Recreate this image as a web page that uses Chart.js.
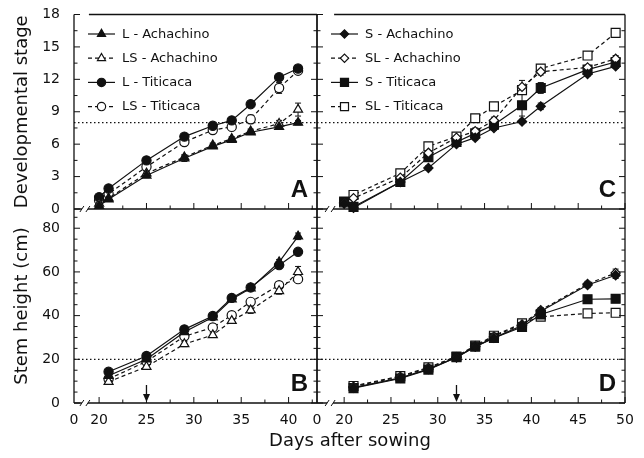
<!DOCTYPE html>
<html>
<head>
<meta charset="utf-8">
<script src="https://cdn.jsdelivr.net/npm/chart.js@4.4.1/dist/chart.umd.min.js"></script>
<style>
  html, body { margin: 0; padding: 0; background: #fff; }
  #wrap { position: relative; width: 644px; height: 458px; }
  #wrap canvas { position: absolute; left: 0; top: 0; }
  #xtitle { position: absolute; left: 230px; width: 240px; top: 429px; text-align: center;
            font: 18px "DejaVu Sans", sans-serif; color: #111; line-height: 22px; }
</style>
</head>
<body>
<div id="wrap">
  <canvas id="panel-a" width="644" height="458"></canvas>
  <canvas id="panel-b" width="644" height="458"></canvas>
  <canvas id="panel-c" width="644" height="458"></canvas>
  <canvas id="panel-d" width="644" height="458"></canvas>
  <div id="xtitle">Days after sowing</div>
</div>
<script>
// ---- data ----

// A : developmental stage, L / LS
const daysA = [20, 21, 25, 29, 32, 34, 36, 39, 41];
const stageLAch  = [0.3, 0.9, 3.1, 4.7, 5.8, 6.4, 7.1, 7.6, 8.0];
const stageLSAch = [0.5, 1.0, 3.3, 4.8, 5.9, 6.5, 7.2, 7.9, 9.2];
const stageLTit  = [1.1, 1.9, 4.5, 6.7, 7.7, 8.2, 9.7, 12.2, 13.0];
const stageLSTit = [0.8, 1.4, 3.9, 6.2, 7.3, 7.6, 8.3, 11.2, 12.8];
const errLAch  = [0, 0, 0.2, 0.3, 0.2, 0.2, 0.2, 0.2, 0.2];
const errLSAch = [0, 0, 0.2, 0.2, 0.2, 0.2, 0.2, 0.3, 0.6];
const errLTit  = [0.1, 0.1, 0.2, 0.2, 0.2, 0.2, 0.2, 0.2, 0.2];
const errLSTit = [0.1, 0.1, 0.3, 0.2, 0.2, 0.3, 0.4, 0.5, 0.3];

// B : stem height, L / LS
const daysB = [21, 25, 29, 32, 34, 36, 39, 41];
const heightLAch  = [12.5, 20.0, 32.5, 39.2, 47.5, 52.5, 64.5, 76.3];
const heightLSAch = [9.7, 16.6, 27.0, 31.1, 37.6, 42.5, 51.3, 60.0];
const heightLTit  = [14.3, 21.5, 33.7, 39.8, 48.1, 52.9, 63.1, 69.2];
const heightLSTit = [11.0, 19.0, 30.5, 34.6, 40.2, 46.3, 53.9, 56.7];
const errHLAch  = [0.8, 0.8, 1.0, 1.0, 1.0, 1.0, 1.2, 1.5];
const errHLSAch = [0.8, 1.0, 1.2, 1.0, 1.2, 1.5, 1.5, 2.5];
const errHLTit  = [1.0, 1.0, 1.0, 1.0, 1.0, 1.0, 1.2, 1.0];
const errHLSTit = [1.0, 1.0, 1.2, 1.5, 1.5, 1.5, 1.5, 1.5];

// C : developmental stage, S / SL
const daysC = [20, 21, 26, 29, 32, 34, 36, 39, 41, 46, 49];
const stageSAch  = [0.5, 0.1, 2.5, 3.8, 6.0, 6.6, 7.5, 8.1, 9.5, 12.5, 13.2];
const stageSLAch = [0.6, 1.0, 2.9, 5.2, 6.6, 7.2, 8.2, 11.3, 12.7, 13.1, 13.9];
const stageSTit  = [0.7, 0.2, 2.5, 4.8, 6.2, 7.0, 7.8, 9.6, 11.2, 12.9, 13.6];
const stageSLTit = [0.6, 1.3, 3.3, 5.8, 6.7, 8.4, 9.5, 11.0, 13.0, 14.2, 16.3];
const errSAch  = [0.1, 0.1, 0.2, 0.2, 0.2, 0.2, 0.2, 0.2, 0.3, 0.2, 0.2];
const errSLAch = [0.1, 0.1, 0.2, 0.3, 0.2, 0.3, 0.3, 0.6, 0.3, 0.2, 0.3];
const errSTit  = [0.1, 0.1, 0.2, 0.3, 0.2, 0.2, 0.3, 1.0, 0.5, 0.2, 0.2];
const errSLTit = [0.1, 0.1, 0.2, 0.3, 0.2, 0.2, 0.3, 0.4, 0.3, 0.2, 0.2];

// D : stem height, S / SL
const daysD = [21, 26, 29, 32, 34, 36, 39, 41, 46, 49];
const heightSAch  = [7.0, 11.5, 15.5, 20.8, 25.8, 29.8, 35.5, 42.0, 54.0, 58.5];
const heightSLAch = [7.5, 12.0, 16.0, 21.0, 26.0, 30.5, 36.0, 42.5, 54.5, 59.5];
const heightSTit  = [6.8, 11.2, 15.3, 21.0, 25.8, 29.8, 34.8, 40.5, 47.5, 47.7];
const heightSLTit = [7.8, 12.3, 16.3, 21.3, 26.3, 30.8, 36.5, 39.5, 41.0, 41.3];
const errHSAch  = [0.8, 0.8, 0.8, 0.8, 0.8, 0.8, 1.0, 1.0, 1.2, 1.5];
const errHSLAch = [0.8, 0.8, 0.8, 0.8, 0.8, 0.8, 1.0, 1.2, 1.2, 1.8];
const errHSTit  = [0.8, 0.8, 0.8, 0.8, 0.8, 0.8, 1.0, 1.2, 1.0, 1.0];
const errHSLTit = [0.8, 0.8, 0.8, 0.8, 0.8, 0.8, 1.0, 1.0, 1.0, 1.0];

// axis ticks
const stageTicks  = [0, 3, 6, 9, 12, 15, 18];
const heightTicks = [0, 20, 40, 60, 80];
const daysTicksLeft  = [20, 25, 30, 35, 40];
const daysTicksRight = [20, 25, 30, 35, 40, 45, 50];

// ---- styles ----
const ink = '#111';
const tickFont = { family: 'DejaVu Sans', size: 14 };

const solidTri  = { dashed: false, shape: 'triangle', r: 5.2, open: false };
const openTri   = { dashed: true,  shape: 'triangle', r: 5.2, open: true };
const solidCirc = { dashed: false, shape: 'circle',   r: 4.6, open: false };
const openCirc  = { dashed: true,  shape: 'circle',   r: 4.6, open: true };
const solidDia  = { dashed: false, shape: 'rectRot',  r: 4.6, open: false };
const openDia   = { dashed: true,  shape: 'rectRot',  r: 4.6, open: true };
const solidSq   = { dashed: false, shape: 'rect',     r: 6.3, open: false };
const openSq    = { dashed: true,  shape: 'rect',     r: 6.3, open: true };

function series(label, days, values, errors, style) {
    return {
        label: label,
        data: days.map((d, i) => ({ x: d, y: values[i] })),
        errors: errors,
        borderColor: ink,
        borderWidth: 1.2,
        borderDash: style.dashed ? [4, 3] : [],
        pointStyle: style.shape,
        pointRadius: style.r,
        pointBackgroundColor: style.open ? '#fff' : ink,
        pointBorderColor: ink,
        pointBorderWidth: 1.2,
        tension: 0,
        clip: false
    };
}

// frame, inward ticks, axis break, dotted line, arrow, letter, legend, error bars
const panelPlugin = {
    id: 'panel',
    beforeDatasetsDraw(chart, args, opts) {
        const ctx = chart.ctx;
        const a = chart.chartArea;
        const y = chart.scales.y;
        ctx.save();
        // dotted reference line
        const py = y.getPixelForValue(opts.refY);
        ctx.strokeStyle = ink;
        ctx.lineWidth = 1.2;
        ctx.setLineDash([1.5, 2.5]);
        ctx.beginPath();
        ctx.moveTo(a.left, py);
        ctx.lineTo(a.right, py);
        ctx.stroke();
        ctx.setLineDash([]);
        // error bars
        ctx.lineWidth = 1;
        chart.data.datasets.forEach((ds, i) => {
            const meta = chart.getDatasetMeta(i);
            meta.data.forEach((pt, j) => {
                const e = ds.errors[j];
                if (!e) return;
                const v = ds.data[j].y;
                const y1 = y.getPixelForValue(v - e);
                const y2 = y.getPixelForValue(v + e);
                ctx.beginPath();
                ctx.moveTo(pt.x, y1); ctx.lineTo(pt.x, y2);
                ctx.moveTo(pt.x - 3, y1); ctx.lineTo(pt.x + 3, y1);
                ctx.moveTo(pt.x - 3, y2); ctx.lineTo(pt.x + 3, y2);
                ctx.stroke();
            });
        });
        ctx.restore();
    },
    afterDatasetsDraw(chart, args, opts) {
        const ctx = chart.ctx;
        const a = chart.chartArea;
        const x = chart.scales.x;
        const y = chart.scales.y;
        ctx.save();
        ctx.strokeStyle = ink;
        ctx.fillStyle = ink;
        ctx.lineWidth = 1.3;

        // frame with axis break
        const bx = x.getPixelForValue(opts.breakX);
        ctx.beginPath();
        ctx.moveTo(a.left, a.top); ctx.lineTo(a.left, a.bottom);
        ctx.moveTo(a.right, a.top); ctx.lineTo(a.right, a.bottom);
        ctx.moveTo(a.left, a.bottom); ctx.lineTo(bx - 3, a.bottom);
        ctx.moveTo(bx + 3, a.bottom); ctx.lineTo(a.right, a.bottom);
        if (opts.drawTop) {
            ctx.moveTo(bx + 4, a.top); ctx.lineTo(a.right, a.top);
        }
        ctx.stroke();
        ctx.lineWidth = 1;
        ctx.beginPath();
        [-3, 3].forEach(o => {
            ctx.moveTo(bx + o - 2, a.bottom + 3);
            ctx.lineTo(bx + o + 2, a.bottom - 3);
        });
        ctx.stroke();

        // inward ticks
        ctx.lineWidth = 1;
        ctx.beginPath();
        for (let v = y.min; v <= y.max + 1e-6; v += opts.minorY) {
            const p = y.getPixelForValue(v);
            const major = Math.abs(v / opts.majorY - Math.round(v / opts.majorY)) < 1e-6;
            const len = major ? 6 : 3.5;
            ctx.moveTo(a.left, p); ctx.lineTo(a.left + len, p);
            ctx.moveTo(a.right, p); ctx.lineTo(a.right - len, p);
        }
        for (let v = 20; v <= x.max + 1e-6; v += 2.5) {
            const p = x.getPixelForValue(v);
            const major = Math.abs(v / 5 - Math.round(v / 5)) < 1e-6;
            const len = major ? 6 : 3.5;
            ctx.moveTo(p, a.bottom); ctx.lineTo(p, a.bottom - len);
        }
        ctx.stroke();

        // arrow marking transfer day
        if (opts.arrowX !== undefined) {
            const ax = x.getPixelForValue(opts.arrowX);
            ctx.lineWidth = 1.3;
            ctx.beginPath();
            ctx.moveTo(ax, a.bottom - 18); ctx.lineTo(ax, a.bottom - 6);
            ctx.stroke();
            ctx.beginPath();
            ctx.moveTo(ax - 3.5, a.bottom - 9);
            ctx.lineTo(ax + 3.5, a.bottom - 9);
            ctx.lineTo(ax, a.bottom - 1);
            ctx.closePath();
            ctx.fill();
        }

        // panel letter
        ctx.font = 'bold 24px "Liberation Sans"';
        ctx.textAlign = 'right';
        ctx.textBaseline = 'alphabetic';
        ctx.fillText(opts.letter, a.right - 9, a.bottom - 12);

        // legend inside the plot
        if (opts.legend) {
            ctx.font = '13px "DejaVu Sans"';
            ctx.textAlign = 'left';
            ctx.textBaseline = 'middle';
            chart.data.datasets.forEach((ds, i) => {
                const ly = a.top + 19.5 + i * 24.2;
                const lx = a.left + 14;
                ctx.lineWidth = 1.2;
                ctx.setLineDash(ds.borderDash);
                ctx.beginPath();
                ctx.moveTo(lx, ly); ctx.lineTo(lx + 27, ly);
                ctx.stroke();
                ctx.setLineDash([]);
                ctx.fillStyle = ds.pointBackgroundColor;
                ctx.strokeStyle = ink;
                Chart.helpers.drawPoint(ctx, {
                    pointStyle: ds.pointStyle,
                    radius: ds.pointRadius * 0.9,
                    rotation: 0,
                    borderWidth: 1.2
                }, lx + 13.5, ly);
                ctx.fillStyle = ink;
                ctx.fillText(ds.label, a.left + 48, ly + 0.5);
            });
        }
        ctx.restore();
    }
};

function makePanel(id, cfg) {
    return new Chart(document.getElementById(id), {
        type: 'line',
        data: { datasets: cfg.datasets },
        plugins: [panelPlugin],
        options: {
            responsive: false,
            animation: false,
            events: [],
            layout: { padding: cfg.padding },
            plugins: {
                legend: { display: false },
                tooltip: { enabled: false },
                panel: cfg.panel
            },
            scales: {
                x: {
                    type: 'linear',
                    min: cfg.xMin,
                    max: cfg.xMax,
                    display: cfg.showX,
                    grid: { display: false },
                    border: { display: false },
                    afterBuildTicks: s => { s.ticks = [cfg.xMin].concat(cfg.xTicks).map(v => ({ value: v })); },
                    afterFit: s => { s.height = cfg.showX ? 30 : 0; },
                    ticks: {
                        autoSkip: false,
                        maxRotation: 0,
                        padding: 1,
                        color: ink,
                        font: tickFont,
                        callback: (v, i) => i === 0 ? '0' : v
                    }
                },
                y: {
                    type: 'linear',
                    min: 0,
                    max: cfg.yMax,
                    display: cfg.showY,
                    grid: { display: false },
                    border: { display: false },
                    afterBuildTicks: s => { s.ticks = cfg.yTicks.map(v => ({ value: v })); },
                    afterFit: s => { s.width = cfg.showY ? 74 : 0; },
                    ticks: { padding: 6, color: ink, font: tickFont },
                    title: {
                        display: !!cfg.yTitle,
                        text: cfg.yTitle,
                        color: ink,
                        font: { family: 'DejaVu Sans', size: 18 },
                        padding: { top: 12, bottom: 0 }
                    }
                }
            }
        }
    });
}

const leftX = { xMin: 17.35, xMax: 43, xTicks: daysTicksLeft };
const rightX = { xMin: 17.1, xMax: 50, xTicks: daysTicksRight };

makePanel('panel-a', Object.assign({}, leftX, {
    datasets: [
        series('L - Achachino', daysA, stageLAch, errLAch, solidTri),
        series('LS - Achachino', daysA, stageLSAch, errLSAch, openTri),
        series('L - Titicaca', daysA, stageLTit, errLTit, solidCirc),
        series('LS - Titicaca', daysA, stageLSTit, errLSTit, openCirc)
    ],
    padding: { left: 0, top: 14.5, right: 327, bottom: 249 },
    showX: false, showY: true, yMax: 18, yTicks: stageTicks, yTitle: 'Developmental stage',
    panel: { letter: 'A', refY: 8, breakX: 18.5, minorY: 1.5, majorY: 3, drawTop: true, legend: true }
}));

makePanel('panel-b', Object.assign({}, leftX, {
    datasets: [
        series('L - Achachino', daysB, heightLAch, errHLAch, solidTri),
        series('LS - Achachino', daysB, heightLSAch, errHLSAch, openTri),
        series('L - Titicaca', daysB, heightLTit, errHLTit, solidCirc),
        series('LS - Titicaca', daysB, heightLSTit, errHLSTit, openCirc)
    ],
    padding: { left: 0, top: 209, right: 327, bottom: 25 },
    showX: true, showY: true, yMax: 88.8, yTicks: heightTicks, yTitle: 'Stem height (cm)',
    panel: { letter: 'B', refY: 20, breakX: 18.5, minorY: 5, majorY: 20, arrowX: 25 }
}));

makePanel('panel-c', Object.assign({}, rightX, {
    datasets: [
        series('S - Achachino', daysC, stageSAch, errSAch, solidDia),
        series('SL - Achachino', daysC, stageSLAch, errSLAch, openDia),
        series('S - Titicaca', daysC, stageSTit, errSTit, solidSq),
        series('SL - Titicaca', daysC, stageSLTit, errSLTit, openSq)
    ],
    padding: { left: 317, top: 14.5, right: 19, bottom: 249 },
    showX: false, showY: false, yMax: 18, yTicks: stageTicks,
    panel: { letter: 'C', refY: 8, breakX: 18.5, minorY: 1.5, majorY: 3, drawTop: true, legend: true }
}));

makePanel('panel-d', Object.assign({}, rightX, {
    datasets: [
        series('S - Achachino', daysD, heightSAch, errHSAch, solidDia),
        series('SL - Achachino', daysD, heightSLAch, errHSLAch, openDia),
        series('S - Titicaca', daysD, heightSTit, errHSTit, solidSq),
        series('SL - Titicaca', daysD, heightSLTit, errHSLTit, openSq)
    ],
    padding: { left: 317, top: 209, right: 19, bottom: 25 },
    showX: true, showY: false, yMax: 88.8, yTicks: heightTicks,
    panel: { letter: 'D', refY: 20, breakX: 18.5, minorY: 5, majorY: 20, arrowX: 32 }
}));
</script>
</body>
</html>
